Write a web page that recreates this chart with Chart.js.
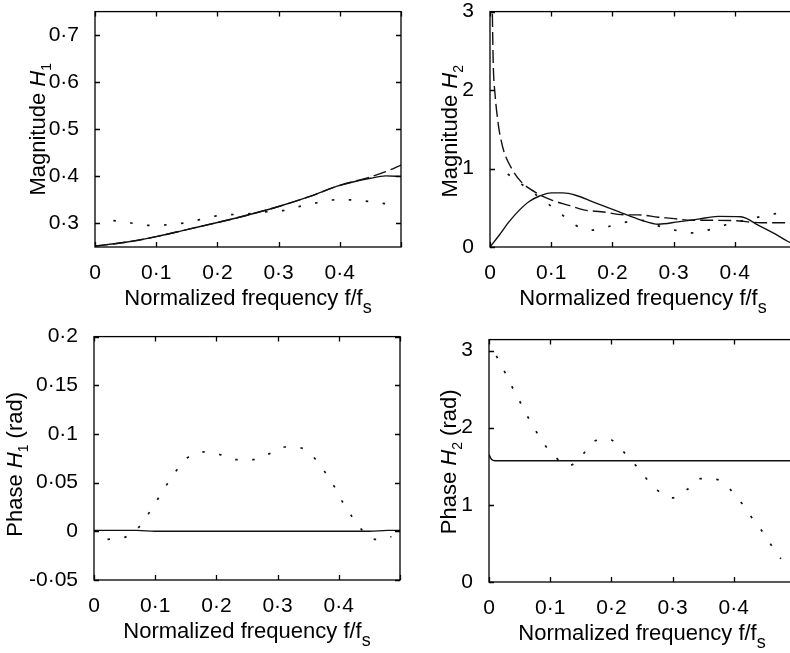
<!DOCTYPE html>
<html>
<head>
<meta charset="utf-8">
<script src="https://cdn.jsdelivr.net/npm/chart.js@4.4.1/dist/chart.umd.min.js"></script>
<style>
  html, body { margin: 0; padding: 0; background: #fff; overflow: hidden; width: 790px; height: 653px; }
  canvas { position: absolute; }
</style>
</head>
<body>
<canvas id="mag1" width="421" height="326" style="left:0px;top:-9px"></canvas>
<canvas id="mag2" width="421" height="326" style="left:395px;top:-9px"></canvas>
<canvas id="ph1" width="421" height="334" style="left:-1px;top:316px"></canvas>
<canvas id="ph2" width="421" height="333" style="left:394px;top:319px"></canvas>
<script>
// frequency axis (shared)
const freqTicks = [0, 0.1, 0.2, 0.3, 0.4, 0.5]
const freqLabels = ["0", "0·1", "0·2", "0·3", "0·4", ""]

// magnitude H1
const mag1Ticks = [0.3, 0.4, 0.5, 0.6, 0.7]
const mag1Labels = ["0·3", "0·4", "0·5", "0·6", "0·7"]
const mag1Freq = [0, 0.05, 0.1, 0.15, 0.2, 0.25, 0.3, 0.35, 0.4, 0.45, 0.475, 0.5]
const mag1Solid = [0.252, 0.26, 0.272, 0.287, 0.302, 0.318, 0.336, 0.357, 0.381, 0.396, 0.401, 0.4]
const mag1Dashed = [0.252, 0.26, 0.272, 0.287, 0.302, 0.318, 0.336, 0.357, 0.381, 0.399, 0.41, 0.424]
const mag1DotFreq = [0.03, 0.059, 0.087, 0.116, 0.145, 0.171, 0.198, 0.226, 0.254, 0.281, 0.31, 0.337, 0.363, 0.391, 0.418, 0.446, 0.474]
const mag1Dotted = [0.306, 0.301, 0.296, 0.297, 0.301, 0.308, 0.316, 0.319, 0.321, 0.325, 0.328, 0.337, 0.344, 0.35, 0.35, 0.347, 0.342]

// magnitude H2
const mag2Ticks = [0, 1, 2, 3]
const mag2Labels = ["0", "1", "2", "3"]
const mag2SolidFreq = [0, 0.015, 0.031, 0.048, 0.064, 0.081, 0.1, 0.119, 0.14, 0.168, 0.21, 0.248, 0.275, 0.307, 0.34, 0.373, 0.41, 0.438, 0.465, 0.487, 0.5]
const mag2Solid = [0, 0.15, 0.32, 0.47, 0.58, 0.65, 0.69, 0.69, 0.66, 0.575, 0.45, 0.34, 0.29, 0.32, 0.355, 0.39, 0.385, 0.28, 0.17, 0.07, 0.02]
const mag2DashFreq = [0.003, 0.0038, 0.0046, 0.0054, 0.0082, 0.0136, 0.0163, 0.023, 0.037, 0.051, 0.078, 0.1, 0.129, 0.155, 0.182, 0.22, 0.242, 0.275, 0.297, 0.33, 0.362, 0.4, 0.443, 0.476, 0.5]
const mag2Dashed = [3.2, 3.0, 2.6, 2.3, 1.95, 1.56, 1.43, 1.21, 0.98, 0.83, 0.68, 0.6, 0.53, 0.47, 0.45, 0.41, 0.41, 0.38, 0.365, 0.34, 0.34, 0.335, 0.31, 0.31, 0.31]
const mag2DotFreq = [0.029, 0.094, 0.118, 0.139, 0.165, 0.193, 0.218, 0.248, 0.275, 0.302, 0.33, 0.356, 0.384, 0.41, 0.435, 0.463, 0.49]
const mag2Dotted = [0.93, 0.555, 0.41, 0.28, 0.215, 0.26, 0.31, 0.34, 0.27, 0.215, 0.18, 0.215, 0.28, 0.33, 0.375, 0.42, 0.45]

// phase H1
const ph1Ticks = [-0.05, 0, 0.05, 0.1, 0.15, 0.2]
const ph1Labels = ["-0·05", "0", "0·05", "0·1", "0·15", "0·2"]
const ph1SolidFreq = [0, 0.07, 0.1, 0.45, 0.48, 0.5]
const ph1Solid = [0.001, 0.001, 0, 0, 0.001, 0.001]
const ph1DotFreq = [0.022, 0.051, 0.073, 0.089, 0.104, 0.119, 0.134, 0.153, 0.179, 0.206, 0.232, 0.261, 0.287, 0.311, 0.339, 0.361, 0.378, 0.393, 0.406, 0.421, 0.437, 0.46, 0.486]
const ph1Dotted = [-0.0083, -0.006, 0.004, 0.018, 0.033, 0.048, 0.062, 0.0757, 0.0815, 0.0788, 0.0737, 0.0737, 0.0798, 0.0866, 0.0856, 0.0747, 0.0603, 0.0456, 0.0303, 0.0156, 0.002, -0.0083, -0.0056]

// phase H2
const ph2Ticks = [0, 1, 2, 3]
const ph2Labels = ["0", "1", "2", "3"]
const ph2SolidFreq = [0, 0.004, 0.01, 0.5]
const ph2Solid = [1.65, 1.59, 1.571, 1.571]
const ph2DotFreq = [0.012, 0.0245, 0.037, 0.049, 0.062, 0.075, 0.089, 0.107, 0.131, 0.154, 0.17, 0.196, 0.218, 0.237, 0.255, 0.275, 0.3, 0.324, 0.346, 0.372, 0.394, 0.413, 0.429, 0.446, 0.461, 0.477]
const ph2Dotted = [2.93, 2.74, 2.54, 2.36, 2.16, 1.98, 1.8, 1.63, 1.51, 1.66, 1.82, 1.85, 1.7, 1.54, 1.36, 1.19, 1.09, 1.2, 1.34, 1.33, 1.2, 1.02, 0.84, 0.66, 0.48, 0.3]

const FONT = '"Liberation Sans", Arial, Helvetica, sans-serif'
const INK = "#111"

const xyPairs = (xs, ys) => xs.map((x, i) => ({ x, y: ys[i] }))

const STYLES = {
  solid: { borderDash: [], borderWidth: 1.4 },
  dashed: { borderDash: [13, 5], borderWidth: 1.4 },
  dotted: { borderDash: [2.5, 14.5], borderWidth: 1.7 },
}

const line = (xs, ys, style) => ({
  data: xyPairs(xs, ys),
  borderColor: INK,
  pointRadius: 0,
  cubicInterpolationMode: "monotone",
  fill: false,
  ...STYLES[style],
})

// draws a run of text pieces (plain / italic / subscript) centred on x
const drawRich = (ctx, segs, x, y) => {
  const fontOf = (s) => (s.sub ? `14px ${FONT}` : s.sub2 ? `18px ${FONT}` : `${s.italic ? "italic " : ""}22px ${FONT}`)
  let total = 0
  segs.forEach((s) => {
    ctx.font = fontOf(s)
    total += ctx.measureText(s.t).width
  })
  let cx = x - total / 2
  segs.forEach((s) => {
    ctx.font = fontOf(s)
    ctx.fillText(s.t, cx, y + (s.sub ? 6 : s.sub2 ? 8 : 0))
    cx += ctx.measureText(s.t).width
  })
}

const xTitle = [{ t: "Normalized frequency f/f" }, { t: "s", sub2: true }]

const framePlugin = {
  id: "frame",
  afterDraw(chart, args, opts) {
    const { ctx, chartArea: a, scales } = chart
    const { x, y } = scales
    ctx.save()
    ctx.strokeStyle = "#000"
    ctx.lineWidth = 1.3
    ctx.strokeRect(a.left, a.top, a.right - a.left, a.bottom - a.top)
    ctx.beginPath()
    x.ticks.forEach((t) => {
      const px = Math.round(x.getPixelForValue(t.value)) + 0.5
      ctx.moveTo(px, a.bottom)
      ctx.lineTo(px, a.bottom - 5)
      ctx.moveTo(px, a.top)
      ctx.lineTo(px, a.top + 5)
    })
    y.ticks.forEach((t) => {
      const py = Math.round(y.getPixelForValue(t.value)) + 0.5
      ctx.moveTo(a.left, py)
      ctx.lineTo(a.left + 5, py)
      ctx.moveTo(a.right, py)
      ctx.lineTo(a.right - 5, py)
    })
    ctx.stroke()

    ctx.fillStyle = "#000"
    ctx.textBaseline = "alphabetic"
    ctx.textAlign = "left"
    drawRich(ctx, xTitle, (a.left + a.right) / 2, a.bottom + 58)

    ctx.translate(a.left - opts.titleGap, (a.top + a.bottom) / 2 + opts.titleShift)
    ctx.rotate(-Math.PI / 2)
    drawRich(ctx, opts.yTitle, 0, 0)
    ctx.restore()
  },
}

const makePanel = (id, cfg) =>
  new Chart(document.getElementById(id), {
    type: "line",
    data: { datasets: cfg.datasets },
    plugins: [framePlugin],
    options: {
      responsive: false,
      animation: false,
      devicePixelRatio: 1,
      layout: { padding: { top: 20, right: 20, left: 0, bottom: 0 } },
      plugins: {
        legend: { display: false },
        tooltip: { enabled: false },
        frame: { yTitle: cfg.yTitle, titleGap: cfg.titleGap, titleShift: cfg.titleShift },
      },
      scales: {
        x: {
          type: "linear",
          min: 0,
          max: 0.5,
          grid: { display: false },
          border: { display: false },
          afterBuildTicks: (s) => {
            s.ticks = freqTicks.map((v) => ({ value: v }))
          },
          afterFit: (s) => {
            s.height = 70
          },
          ticks: {
            padding: 6,
            maxRotation: 0,
            autoSkip: false,
            color: "#000",
            font: { family: FONT, size: 21 },
            callback: (v, i) => freqLabels[i],
          },
        },
        y: {
          type: "linear",
          min: cfg.yMin,
          max: cfg.yMax,
          grid: { display: false },
          border: { display: false },
          afterBuildTicks: (s) => {
            s.ticks = cfg.yTicks.map((v) => ({ value: v }))
          },
          afterFit: (s) => {
            s.width = 95
          },
          ticks: {
            padding: 8,
            autoSkip: false,
            color: "#000",
            font: { family: FONT, size: 21 },
            callback: (v, i) => cfg.yLabels[i],
          },
        },
      },
    },
  })

makePanel("mag1", {
  yMin: 0.25,
  yMax: 0.75,
  yTicks: mag1Ticks,
  yLabels: mag1Labels,
  yTitle: [{ t: "Magnitude " }, { t: "H", italic: true }, { t: "1", sub: true }],
  titleGap: 50,
  titleShift: 0,
  datasets: [
    line(mag1Freq, mag1Dashed, "dashed"),
    line(mag1Freq, mag1Solid, "solid"),
    line(mag1DotFreq, mag1Dotted, "dotted"),
  ],
})

makePanel("mag2", {
  yMin: 0,
  yMax: 3,
  yTicks: mag2Ticks,
  yLabels: mag2Labels,
  yTitle: [{ t: "Magnitude " }, { t: "H", italic: true }, { t: "2", sub: true }],
  titleGap: 33,
  titleShift: 2,
  datasets: [
    line(mag2DashFreq, mag2Dashed, "dashed"),
    line(mag2SolidFreq, mag2Solid, "solid"),
    line(mag2DotFreq, mag2Dotted, "dotted"),
  ],
})

makePanel("ph1", {
  yMin: -0.05,
  yMax: 0.2,
  yTicks: ph1Ticks,
  yLabels: ph1Labels,
  yTitle: [{ t: "Phase " }, { t: "H", italic: true }, { t: "1", sub: true }, { t: " (rad)" }],
  titleGap: 72,
  titleShift: 6,
  datasets: [line(ph1SolidFreq, ph1Solid, "solid"), line(ph1DotFreq, ph1Dotted, "dotted")],
})

makePanel("ph2", {
  yMin: 0,
  yMax: Math.PI,
  yTicks: ph2Ticks,
  yLabels: ph2Labels,
  yTitle: [{ t: "Phase " }, { t: "H", italic: true }, { t: "2", sub: true }, { t: " (rad)" }],
  titleGap: 33,
  titleShift: 1,
  datasets: [line(ph2SolidFreq, ph2Solid, "solid"), line(ph2DotFreq, ph2Dotted, "dotted")],
})
</script>
</body>
</html>
